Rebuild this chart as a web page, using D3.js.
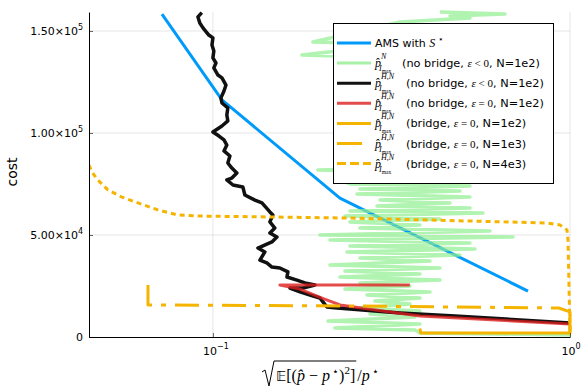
<!DOCTYPE html>
<html>
<head>
<meta charset="utf-8">
<script src="https://cdn.jsdelivr.net/npm/d3@7"></script>
<style>body{margin:0;background:#fff}</style>
</head>
<body>
<div id="chart"></div>
<script>
// points are [relative error, cost]
const amsCurve = [[0.0720,158300],[0.1060,116200],[0.2268,68100],[0.7627,22500]];

const noBridgeNegN = [
  [0.4324,159300],[0.6575,158300],[0.4612,157400],[0.5248,156400],[0.3341,154400],
  [0.1906,144600],[0.3341,143600],[0.1775,138200],[0.3341,136800],[0.3341,83000],
  [0.1968,81900],[0.3341,80900],[0.2268,77000],[0.2419,75000],[0.5248,74000],
  [0.2581,72500],[0.4918,71600],[0.2532,70100],[0.5248,68600],[0.2936,67200],
  [0.4612,65700],[0.2880,64200],[0.5248,63200],[0.2419,61800],[0.5706,60800],
  [0.2343,59300],[0.4324,57800],[0.2419,56400],[0.3800,54900],[0.2581,53400],
  [0.5971,52000],[0.1994,50000],[0.6922,49000],[0.2127,47600],[0.5248,46100],
  [0.2419,44600],[0.5418,43100],[0.2373,41700],[0.4918,40200],[0.2581,38700],
  [0.4054,37300],[0.2127,35300],[0.4324,33800],[0.2343,32400],[0.3800,30900],
  [0.2268,29400],[0.4324,27900],[0.2581,26500],[0.3562,25000],[0.2343,23500],
  [0.4054,22100],[0.2700,20600],[0.3800,19100],[0.2843,17600],[0.3562,16200],
  [0.2581,14200],[0.3800,12700],[0.2753,11300],[0.3679,9800],[0.2100,7800],
  [0.3800,6400],[0.2196,4400],[0.3679,3400],[0.3800,2000],[1.0,1000]
];

const noBridgeNegHN = [
  [0.0931,159000],[0.0908,156900],[0.0919,153900],[0.0938,151500],[0.0974,148000],
  [0.1000,146600],[0.0994,143100],[0.1006,140200],[0.1000,136800],[0.1020,134300],
  [0.1006,131900],[0.1033,128400],[0.1060,127000],[0.1088,123500],[0.1074,120600],
  [0.1053,117200],[0.1060,114700],[0.1101,112300],[0.1094,108800],[0.1101,105900],
  [0.1060,103400],[0.1000,100500],[0.1040,98500],[0.1074,96600],[0.1094,94100],
  [0.1074,91200],[0.1116,88700],[0.1101,85300],[0.1130,82800],[0.1167,80400],
  [0.1130,77900],[0.1094,77000],[0.1138,74500],[0.1213,73500],[0.1229,69600],
  [0.1311,67100],[0.1372,65700],[0.1444,61300],[0.1472,59800],[0.1444,56400],
  [0.1491,53400],[0.1444,51000],[0.1511,49000],[0.1463,46600],[0.1337,43600],
  [0.1398,41700],[0.1354,37700],[0.1416,36300],[0.1463,34300],[0.1540,33800],
  [0.1622,31900],[0.1612,29400],[0.1719,27900],[0.1810,26500],[0.1931,25500],
  [0.1787,24000],[0.1643,24000],[0.1753,22100],[0.1870,20600],[0.1994,19100],
  [0.2033,17200],[0.2086,14700],[0.2225,14200],[0.2419,13700],[0.3341,11800],
  [0.4764,10300],[1.0,6900]
];

const noBridgeZeroHN = [
  [0.356,25500],[0.154,25500],[0.1753,23500],[0.202,19100],[0.227,15700],
  [0.299,12700],[0.380,10300],[1.0,6400]
];

const bridgeN1e2 = [[0.380,4200],[0.382,2000],[1.0,2000],[1.0,11000]];

const bridgeN1e3 = [
  [0.0658,25500],[0.0658,15700],[0.2419,15200],[0.93,14200],[1.0,12300],[1.0,500]
];

const bridgeN4e3 = [
  [0.0438,88200],[0.0449,84800],[0.0458,80900],[0.0476,77000],[0.0508,72100],
  [0.0556,68600],[0.0617,65700],[0.0701,62300],[0.0798,59800],[0.0908,59300],
  [0.2419,58300],[0.8622,55900],[0.9375,54900],[0.9808,52500],[0.9872,47500],
  [1.0,2000],[1.0,500]
];

const yTicks = [0,50000,100000,150000];
const yTickMant = ['0','5.00','1.00','1.50'];
const yTickExp = ['','4','5','5'];
const xTicks = [0.1,1];
const xTickExp = ['\u22121','0'];

const legendBridge = ['no bridge','no bridge','no bridge','bridge','bridge','bridge'];
const legendEps = ['<','<','=','=','=','='];
const legendN = ['1e2','1e2','1e2','1e2','1e3','4e3'];
const legendSup = ['N','H\u0304,N','H\u0304,N','H\u0304,N','H\u0304,N','H\u0304,N'];

const W=581,H=388;
const SANS="'DejaVu Sans',sans-serif", SERIF="'Liberation Serif','DejaVu Serif',serif";
const ORANGE='#f5b400';

const svg=d3.select('#chart').append('svg')
  .attr('width',W).attr('height',H)
  .style('font-family',SANS);

const x=d3.scaleLog().domain([0.04498,1]).range([89,570]);
const y=d3.scaleLinear().domain([0,159300]).range([337,12]);

// grid
svg.append('g').selectAll('line').data(yTicks.slice(1)).join('line')
  .attr('x1',89).attr('x2',570).attr('y1',d=>y(d)).attr('y2',d=>y(d))
  .attr('stroke','#000').attr('stroke-opacity',0.1);
svg.append('g').selectAll('line').data(xTicks).join('line')
  .attr('x1',d=>x(d)).attr('x2',d=>x(d)).attr('y1',12).attr('y2',337)
  .attr('stroke','#000').attr('stroke-opacity',0.1);

svg.append('defs').append('clipPath').attr('id','clip')
  .append('rect').attr('x',89).attr('y',4).attr('width',488).attr('height',336);

const line=d3.line().x(d=>x(d[0])).y(d=>y(d[1]));
const plot=svg.append('g').attr('clip-path','url(#clip)').attr('fill','none')
  .attr('stroke-linejoin','round');

const series=[
  {data:amsCurve,color:'#009afa',w:3,op:1,dash:null},
  {data:noBridgeNegN,color:'#90ee90',w:3.5,op:0.7,dash:null},
  {data:noBridgeNegHN,color:'#111',w:3.5,op:1,dash:null},
  {data:noBridgeZeroHN,color:'#dd1f1f',w:3,op:0.8,dash:null},
  {data:bridgeN1e2,color:ORANGE,w:3,op:1,dash:null},
  {data:bridgeN1e3,color:ORANGE,w:3,op:1,dash:'24,9,5,9'},
  {data:bridgeN4e3,color:ORANGE,w:3,op:1,dash:'5,4'}
];
series.forEach(s=>{
  plot.append('path').attr('d',line(s.data))
    .attr('stroke',s.color).attr('stroke-width',s.w)
    .attr('stroke-opacity',s.op).attr('stroke-dasharray',s.dash);
});

// axes
const ax=svg.append('g').attr('transform','translate(0,337)')
  .call(d3.axisBottom(x).tickValues(xTicks).tickFormat('').tickSizeInner(-4).tickSizeOuter(0));
const ay=svg.append('g').attr('transform','translate(89,0)')
  .call(d3.axisLeft(y).tickValues(yTicks).tickFormat('').tickSizeInner(-4).tickSizeOuter(0));
[ax,ay].forEach(a=>{
  a.select('.domain').attr('stroke','#000');
  a.selectAll('.tick line').attr('stroke','#000').attr('stroke-opacity',0.6);
});

yTicks.forEach((d,i)=>{
  const t=svg.append('text').attr('x',83).attr('y',y(d)+4)
    .attr('text-anchor','end').attr('font-size',11).attr('fill','#000');
  if(yTickExp[i]){
    t.append('tspan').text(yTickMant[i]+'\u00d710');
    t.append('tspan').attr('dy',-5).attr('font-size',8).text(yTickExp[i]);
  } else t.text(yTickMant[i]);
});
xTicks.forEach((d,i)=>{
  const t=svg.append('text').attr('x',x(d)+(i===1?1:3)).attr('y',355)
    .attr('text-anchor','middle').attr('font-size',11);
  t.append('tspan').text('10');
  t.append('tspan').attr('dy',-6).attr('font-size',8).text(xTickExp[i]);
});

// axis titles
svg.append('text').attr('transform','translate(17,172) rotate(-90)')
  .attr('text-anchor','middle').attr('font-size',14).text('cost');

const xl=svg.append('g').attr('font-family',SERIF).attr('font-size',16);
const inner=xl.append('text').attr('x',276).attr('y',381);
inner.append('tspan').attr('font-family',SANS).attr('font-size',14).text('\ud835\udd3c');
inner.append('tspan').text('[(');
inner.append('tspan').attr('font-style','italic').text('p\u0302');
inner.append('tspan').text(' \u2212 ');
inner.append('tspan').attr('font-style','italic').text('p');
inner.append('tspan').attr('dy',-6).attr('font-size',11).text('\u2009\u22c6');
inner.append('tspan').attr('dy',6).text(')');
inner.append('tspan').attr('dy',-7).attr('font-size',11).text('2');
inner.append('tspan').attr('dy',7).text(']');
const iw=inner.node().getComputedTextLength();
const xe=276+iw+1;
xl.append('path').attr('d',`M262,372 L265,370 L269,386 L274,361 L${xe},361`)
  .attr('fill','none').attr('stroke','#000').attr('stroke-width',1);
const outer=xl.append('text').attr('x',xe+1).attr('y',381);
outer.append('tspan').text('/');
outer.append('tspan').attr('font-style','italic').text('p');
outer.append('tspan').attr('dy',-6).attr('font-size',11).text('\u2009\u22c6');

// legend
const lg=svg.append('g');
lg.append('rect').attr('x',333.5).attr('y',23.5).attr('width',220).attr('height',160)
  .attr('fill','#fff').attr('stroke','#000').attr('stroke-width',1);
series.forEach((s,i)=>{
  const ly=43+i*20.1;
  lg.append('line').attr('x1',337).attr('x2',i===5?362:371).attr('y1',ly).attr('y2',ly)
    .attr('stroke',s.color).attr('stroke-width',3).attr('stroke-opacity',s.op===1?1:0.8)
    .attr('stroke-dasharray',s.dash && i===6?'9,4':null);
});
// first entry
const t0=lg.append('text').attr('x',375).attr('y',47).attr('font-size',11);
t0.append('tspan').text('AMS with ');
t0.append('tspan').attr('font-family',SERIF).attr('font-style','italic').attr('font-size',12).text('S');
t0.append('tspan').attr('font-family',SERIF).attr('dy',-5).attr('font-size',9).text(' \u22c6');
legendBridge.forEach((b,i)=>{
  const yb=43+(i+1)*20.1+4;
  lg.append('text').attr('x',375).attr('y',yb).attr('font-family',SERIF)
    .attr('font-style','italic').attr('font-size',12).text('p\u0302');
  lg.append('text').attr('x',381).attr('y',yb-8).attr('font-family',SERIF)
    .attr('font-style','italic').attr('font-size',8).text(legendSup[i]);
  const sb=lg.append('text').attr('x',379).attr('y',yb+4).attr('font-family',SERIF)
    .attr('font-style','italic').attr('font-size',8).text('I');
  sb.append('tspan').attr('dy',2).attr('font-size',5.5).attr('font-style','normal').text('max');
  const t=lg.append('text').attr('x',i===0?402:406).attr('y',yb).attr('font-size',11.3);
  t.append('tspan').text('('+b+', ');
  t.append('tspan').attr('font-family',SERIF).attr('font-style','italic').attr('font-size',11).text('\u03b5');
  t.append('tspan').attr('font-family',SERIF).attr('font-size',11).text(' '+legendEps[i]+' 0');
  t.append('tspan').text(', N='+legendN[i]+')');
});
</script>
</body>
</html>
